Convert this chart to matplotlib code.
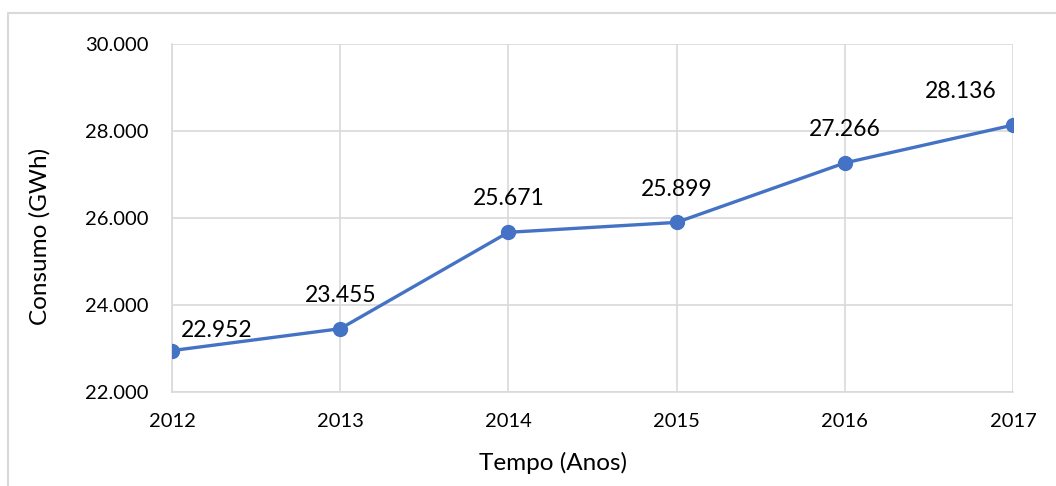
import matplotlib.pyplot as plt
from matplotlib.lines import Line2D
from matplotlib.ticker import FuncFormatter

# data
anos = [2012, 2013, 2014, 2015, 2016, 2017]
consumo = [22952, 23455, 25671, 25899, 27266, 28136]
rotulos = ["22.952", "23.455", "25.671", "25.899", "27.266", "28.136"]
# label offsets in pixels (dx, dy), Excel-style placement
offsets = [(45, 20), (0, 33), (0, 34), (0, 33), (0, 33), (-52, 34)]

plt.rcParams['font.family'] = ['Lato', 'DejaVu Sans']

fig = plt.figure(figsize=(10.56, 4.86), dpi=100)
ax = fig.add_axes([172 / 1056, 1 - 392 / 486, (1013 - 172) / 1056, (392 - 44) / 486])

grid_c = '#D9D9D9'
ax.plot(anos, consumo, '-o', color='#4472C4', lw=2.4, markersize=10, zorder=3)

for x, y, lab, (dx, dy) in zip(anos, consumo, rotulos, offsets):
    ax.annotate(lab, (x, y), xytext=(dx, dy), textcoords='offset pixels',
                ha='center', va='center', fontsize=16.5, color='black')

ax.set_xlim(2012, 2017)
ax.set_ylim(22000, 30000)
ax.set_yticks(range(22000, 30001, 2000))
ax.set_xticks(anos)
ax.yaxis.set_major_formatter(FuncFormatter(lambda v, p: f"{int(v):,}".replace(",", ".")))
ax.tick_params(length=0, labelsize=14.5, pad=17)
ax.tick_params(axis='x', pad=15)
ax.grid(True, color=grid_c, lw=1.2)
for s in ['top', 'right']:
    ax.spines[s].set_visible(False)
for s in ['left', 'bottom']:
    ax.spines[s].set_color(grid_c)
    ax.spines[s].set_linewidth(1.2)
ax.set_axisbelow(True)

fig.text(40 / 1056, 1 - 236 / 486, "Consumo (GWh)", rotation=90, ha='center', va='center', fontsize=17.5)
fig.text(553 / 1056, 1 - 463 / 486, "Tempo (Anos)", ha='center', va='center', fontsize=17.5)

# outer chart border (top and left edges visible)
fig.add_artist(Line2D([8 / 1056, 8 / 1056, 1], [0, 1 - 13 / 486, 1 - 13 / 486],
                      transform=fig.transFigure, color=grid_c, lw=1.5))

fig.savefig('out.png', dpi=100)
